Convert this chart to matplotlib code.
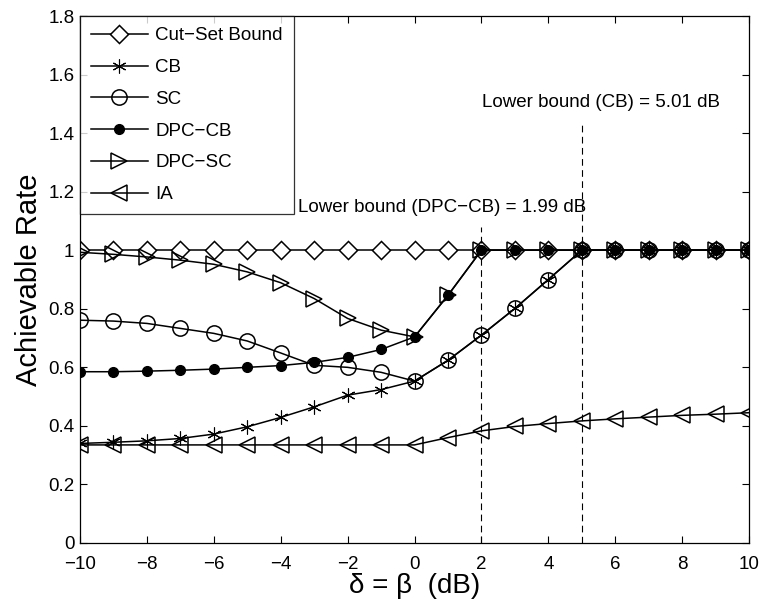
import matplotlib
matplotlib.use("Agg")
import matplotlib.pyplot as plt
import numpy as np

plt.rcParams['font.family'] = ['Liberation Sans', 'DejaVu Sans']

x = list(range(-10, 11))
cutset = [1.0] * 21
cb = [0.340, 0.344, 0.349, 0.357, 0.372, 0.397, 0.429, 0.465, 0.505, 0.524, 0.553,
      0.624, 0.710, 0.801, 0.900, 1.0, 1.0, 1.0, 1.0, 1.0, 1.0]
sc = [0.761, 0.758, 0.750, 0.733, 0.716, 0.690, 0.649, 0.607, 0.600, 0.583, 0.553,
      0.624, 0.710, 0.801, 0.900, 1.0, 1.0, 1.0, 1.0, 1.0, 1.0]
dpc_cb = [0.585, 0.585, 0.587, 0.590, 0.594, 0.600, 0.606, 0.617, 0.634, 0.661, 0.704,
          0.846, 1.0, 1.0, 1.0, 1.0, 1.0, 1.0, 1.0, 1.0, 1.0]
dpc_sc = [0.993, 0.986, 0.977, 0.966, 0.952, 0.926, 0.889, 0.835, 0.767, 0.727, 0.704,
          0.846, 1.0, 1.0, 1.0, 1.0, 1.0, 1.0, 1.0, 1.0, 1.0]
ia = [0.335, 0.335, 0.335, 0.335, 0.335, 0.335, 0.335, 0.335, 0.335, 0.335, 0.335,
      0.360, 0.383, 0.398, 0.408, 0.417, 0.424, 0.430, 0.436, 0.440, 0.445]

bound_x = [2, 5]
bound_top = [1.08, 1.44]
bound_text = ["Lower bound (DPC\u2212CB) = 1.99 dB", "Lower bound (CB) = 5.01 dB"]
bound_text_pos = [(-3.48, 1.147), (2.02, 1.505)]

fig = plt.figure(figsize=(7.62, 6.05), dpi=100)
ax = fig.add_axes([0.105, 0.1025, 0.878, 0.871])

lw = 1.1
ax.plot(x, cutset, 'k-', marker=(4, 0, 0), markersize=13, mfc='white', mec='k', mew=1.1, lw=lw,
        label='Cut\u2212Set Bound')
ax.plot(x, cb, 'k-', marker=(6, 2, 0), markersize=10, mfc='k', mec='k', mew=0.8, lw=lw, label='CB')
ax.plot(x, sc, 'k-', marker='o', markersize=11, mfc='none', mec='k', mew=1.1, lw=lw, label='SC')
ax.plot(x, dpc_cb, 'k-', marker='o', markersize=7, mfc='k', mec='k', lw=lw, label='DPC\u2212CB')
ax.plot(x, dpc_sc, 'k-', marker='>', markersize=11, mfc='none', mec='k', mew=1.1, lw=lw, label='DPC\u2212SC')
ax.plot(x, ia, 'k-', marker='<', markersize=11, mfc='none', mec='k', mew=1.1, lw=lw, label='IA')

for bx, bt in zip(bound_x, bound_top):
    ax.plot([bx, bx], [0, bt], 'k--', lw=0.8, dashes=(6, 4))
for txt, (tx, ty) in zip(bound_text, bound_text_pos):
    ax.text(tx, ty, txt, fontsize=13.5, va='center', ha='left')

ax.set_xlim(-10, 10)
ax.set_ylim(0, 1.8)
ax.set_xticks(np.arange(-10, 11, 2))
ax.set_yticks(np.arange(0, 1.81, 0.2))
ax.set_yticklabels(['0', '0.2', '0.4', '0.6', '0.8', '1', '1.2', '1.4', '1.6', '1.8'])
ax.set_xticklabels(['\u221210', '\u22128', '\u22126', '\u22124', '\u22122', '0', '2', '4', '6', '8', '10'])
ax.tick_params(direction='in', top=True, right=True, labelsize=13.5, length=5, width=0.8, pad=4)
ax.tick_params(axis='x', pad=9.5)
for s in ax.spines.values():
    s.set_linewidth(0.9)

ax.set_xlabel('\u03b4 = \u03b2  (dB)', fontsize=20, labelpad=0)
ax.set_ylabel('Achievable Rate', fontsize=21, labelpad=4)

leg = ax.legend(loc='upper left', borderaxespad=0, fontsize=13.5, handlelength=3.0,
                labelspacing=0.78, frameon=True, fancybox=False, edgecolor='k',
                borderpad=0.6, handletextpad=0.4)
leg.get_frame().set_linewidth(0.9)

fig.savefig('out.png', dpi=100)
